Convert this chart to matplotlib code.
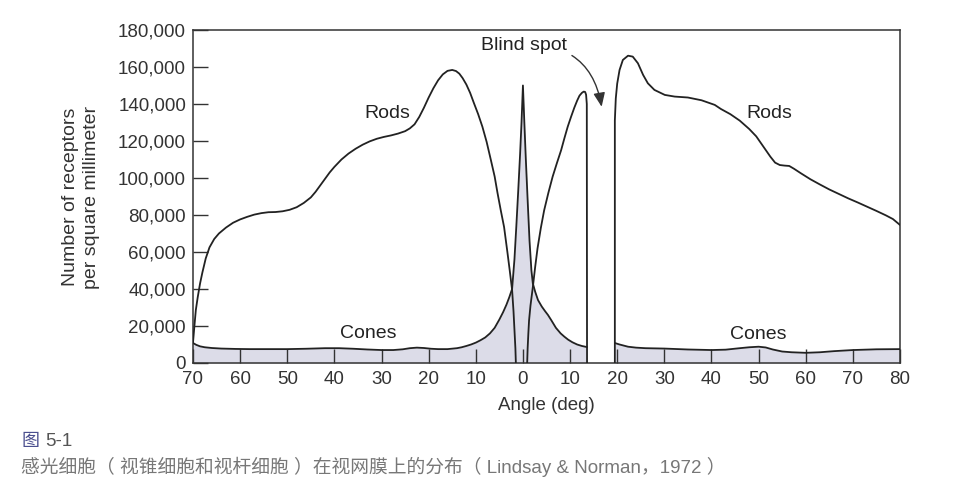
import matplotlib.pyplot as plt

plt.rcParams['font.family'] = ['Liberation Sans', 'DejaVu Sans']

# --- values (negative angle = left of the fovea) ---
rod_left_x = [-70, -69.7, -69.4, -69, -68.5, -68, -67.3, -66.5, -65.5, -64.5, -63, -61.5,
              -60, -58.5, -57, -55.5, -54, -52.5, -51, -49.5, -48, -46.5, -45, -44, -43,
              -42, -41, -40, -38.5, -37, -35.5, -34, -32.5, -31, -29.5, -28, -26.5, -25,
              -24, -23, -22, -21, -20, -19, -18, -17, -16, -15, -14.2, -13.5, -12.8, -12,
              -11.2, -10.4, -9.5, -8.6, -7.7, -6.8, -6, -5.4, -4.7, -4, -3.3, -2.8, -2.3,
              -2.0, -1.8, -1.6, -1.5]
rod_left_y = [11000, 20000, 28600, 35500, 43000, 49000, 56500, 62500, 67000, 70000, 73200, 75800,
              77600, 79000, 80200, 81000, 81500, 81600, 82000, 82800, 84200, 86500, 89500, 92500, 96000,
              99500, 103000, 106000, 110000, 113200, 115800, 118000, 119800, 121200, 122200, 123000, 124000, 125300,
              126800, 129000, 133000, 138000, 143500, 148500, 152800, 156000, 157900, 158400, 157800, 156400, 154000, 150500,
              146000, 140500, 134500, 127700, 119500, 109700, 100800, 92000, 82500, 73500, 60000, 50000, 39500,
              28000, 18000, 8000, 0]

rod_mid_x = [0.9, 1.0, 1.15, 1.3, 1.6, 2.1, 2.6, 3.1, 3.8, 4.5, 5.4, 6.3, 7.2, 8.1, 8.8, 9.5,
             10.2, 10.9, 11.5, 12.0, 12.5, 12.9, 13.2, 13.4, 13.55, 13.6]
rod_mid_y = [0, 8000, 16000, 23000, 31000, 41000, 52000, 62000, 73000, 82500, 92000, 100700, 108000, 115000, 121500, 127700,
             133000, 138000, 141800, 144500, 146000, 146700, 146500, 145000, 140000, 0]

rod_right_x = [19.5, 19.5, 19.7, 20.0, 20.5, 21.2, 22.3, 23.3, 24.4, 25.5, 26.5, 27.9, 30.1, 32.2,
               35, 37.9, 40.7, 42, 44, 46, 48, 49.5, 51, 52.5, 53.5, 54.5, 55.5, 56.5, 57.5,
               59, 61, 63, 65, 67, 69, 71, 73, 75, 77, 78.5, 80]
rod_right_y = [0, 131000, 143000, 151000, 158400, 163800, 166100, 165600, 162000, 155700, 151200, 147600, 144900, 144000,
               143500, 142000, 139500, 137300, 134500, 131000, 126500, 122500, 117000, 111500, 108300, 107000, 106700, 106500, 105000,
               102500, 99300, 96500, 93800, 91400, 89000, 86800, 84500, 82200, 79800, 77800, 74600]

cone_left_x = [-70, -69.3, -68.5, -67.5, -66, -64, -61, -58, -54, -50, -46, -42, -39, -36, -33,
               -30, -27.5, -25.5, -24, -22.5, -21, -19.5, -18, -16, -14, -13, -12, -11, -10, -9,
               -8, -7, -6, -5, -4.2, -3.5, -2.9, -2.3, -1.8, -1.4, -1.0, -0.6, -0.3, 0, 0.3, 0.6,
               1.0, 1.4, 1.8, 2.1, 2.6, 3.2, 4, 4.7, 5.3, 6, 7, 8, 8.8, 9.6, 10.5, 11.5, 12.5, 13.6]
cone_left_y = [10800, 9800, 9000, 8500, 8100, 7800, 7600, 7500, 7500, 7500, 7700, 8000, 8000, 7700, 7300,
               7000, 7000, 7400, 8000, 8300, 8100, 7700, 7500, 7500, 8000, 8500, 9200, 10000, 11000, 12300,
               13800, 16000, 19000, 23500, 27500, 31500, 35500, 40000, 56000, 74000, 93000, 113000, 130000, 150000, 130000, 111000,
               88000, 66000, 50000, 43000, 38500, 34000, 30500, 28000, 26000, 23200, 19000, 16000, 14200, 12600, 11200, 10000, 9200, 8600]

cone_right_x = [19.5, 20.5, 22.3, 24, 26, 30, 35, 40, 43, 46, 48, 50, 51.5, 53, 55, 57, 60,
                63, 66, 70, 75, 80]
cone_right_y = [10800, 10000, 8800, 8300, 8000, 7800, 7300, 7000, 7200, 8000, 8500, 8800, 8400, 7300, 6200, 5800, 5500,
                5800, 6400, 7000, 7400, 7500]

x_ticks = list(range(-70, 81, 10))
x_tick_labels = [str(abs(t)) for t in x_ticks]
y_ticks = list(range(0, 180001, 20000))

line_col = '#222222'
fill_col = '#dcdce8'

fig = plt.figure(figsize=(9.54, 4.98), dpi=100)
ax = fig.add_axes([0.2023, 0.2711, 0.7411, 0.6687])

ax.fill_between(cone_left_x, cone_left_y, 0, color=fill_col, lw=0, zorder=1)
ax.fill_between(cone_right_x, cone_right_y, 0, color=fill_col, lw=0, zorder=1)

for xs, ys in [(rod_left_x, rod_left_y), (rod_mid_x, rod_mid_y), (rod_right_x, rod_right_y),
               (cone_left_x, cone_left_y), (cone_right_x, cone_right_y)]:
    ax.plot(xs, ys, color=line_col, lw=1.3, zorder=3,
            solid_joinstyle='round', solid_capstyle='round')

ax.set_xlim(-70, 80)
ax.set_ylim(0, 180000)
ax.set_xticks(x_ticks)
ax.set_xticklabels(x_tick_labels)
ax.set_yticks(y_ticks)
ax.set_yticklabels([f"{v:,}" for v in y_ticks])
ax.tick_params(axis='x', direction='in', length=10, width=1, color='#333333',
               labelsize=13.5, pad=6, labelcolor='#333333')
ax.tick_params(axis='y', direction='in', length=11, width=1, color='#333333',
               labelsize=13.5, pad=5, labelcolor='#333333')
for sp in ax.spines.values():
    sp.set_color('#333333')
    sp.set_linewidth(1.1)

ax.text(-28.7, 135000, "Rods", fontsize=14, ha='center', va='center', color='#222222')
ax.text(52.3, 134800, "Rods", fontsize=14, ha='center', va='center', color='#222222')
ax.text(-32.8, 15700, "Cones", fontsize=14, ha='center', va='center', color='#222222')
ax.text(50, 15400, "Cones", fontsize=14, ha='center', va='center', color='#222222')

ax.annotate("Blind spot", xy=(16.7, 138500), xytext=(9.3, 171500),
            fontsize=14, ha='right', va='center', color='#222222',
            arrowprops=dict(arrowstyle='-|>,head_length=0.6,head_width=0.25',
                            connectionstyle='arc3,rad=-0.45', color='#333333',
                            lw=1, shrinkA=2, shrinkB=0))

ax.set_xlabel("Angle (deg)", fontsize=13.5, color='#333333', labelpad=6)
fig.text(81 / 954, 1 - 197 / 498, "Number of receptors\nper square millimeter",
         rotation=90, ha='center', va='center', fontsize=14, color='#333333',
         linespacing=1.25)

cap_font = ['Liberation Sans', 'Noto Sans CJK SC', 'DejaVu Sans']
fig.text(22 / 954, 1 - 441 / 498, "图", family=['Noto Sans CJK SC'], fontsize=13,
         color='#4b4f8f', ha='left', va='center')
fig.text(45 / 954, 1 - 441 / 498, "5-1", family=cap_font, fontsize=13.5,
         color='#555555', ha='left', va='center')
fig.text(21 / 954, 1 - 467 / 498,
         "感光细胞（ 视锥细胞和视杆细胞 ）在视网膜上的分布（ Lindsay & Norman，1972 ）",
         family=cap_font, fontsize=13.5, color='#777777', ha='left', va='center')

fig.savefig("out.png", dpi=100)
